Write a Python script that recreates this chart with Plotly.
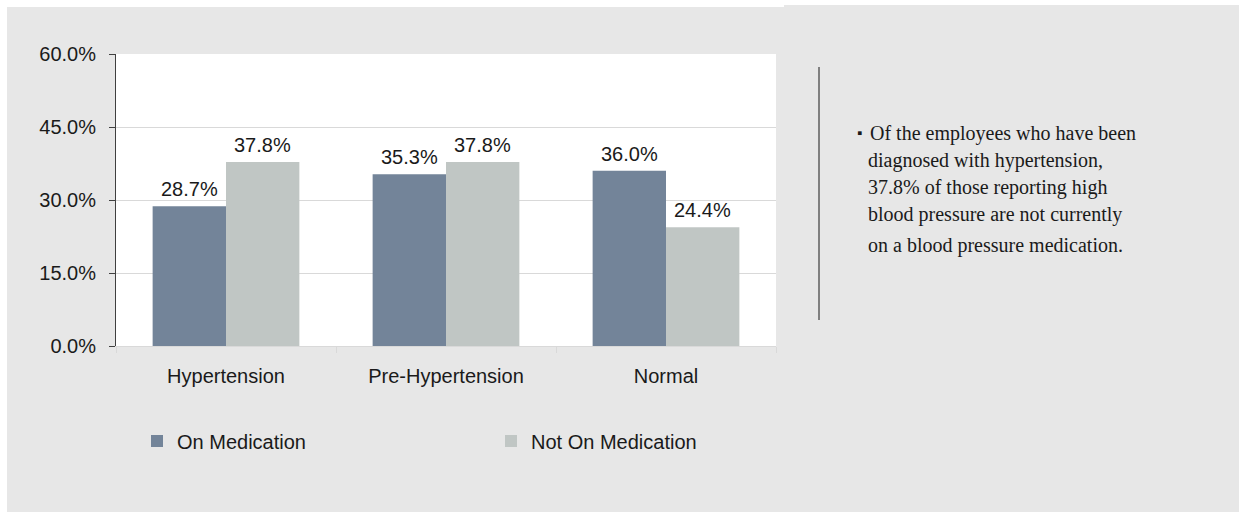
import plotly.graph_objects as go

# ---- data ----
categories = ["Hypertension", "Pre-Hypertension", "Normal"]
on_medication = [0.287, 0.353, 0.360]
not_on_medication = [0.378, 0.378, 0.244]
series_names = ["On Medication", "Not On Medication"]
series_colors = ["#738499", "#c0c6c4"]
y_ticks = [0.0, 0.15, 0.30, 0.45, 0.60]

note_lines = [
    "Of the employees who have been",
    "diagnosed with hypertension,",
    "37.8% of those reporting high",
    "blood pressure are not currently",
    "on a blood pressure medication.",
]

# ---- canvas geometry (pixels) ----
W, H = 1239, 512
ML, MR, MT, MB = 116, 463, 54, 166
PW, PH = W - ML - MR, H - MT - MB


def px(x):
    return (x - ML) / PW


def py(y):
    return (H - MB - y) / PH


SANS = "Liberation Sans, Arial, sans-serif"
SERIF = "Liberation Serif, Times New Roman, serif"
TXT = "#1a1a1a"
FS = 20

fig = go.Figure()
legend_refs = ["legend", "legend2"]
for name, vals, col, lg in zip(series_names, [on_medication, not_on_medication], series_colors, legend_refs):
    fig.add_trace(go.Bar(name=name, x=categories, y=vals, legend=lg,
                         marker=dict(color=col, line=dict(width=0))))

# value labels above each bar
n_series = 2
bargap = 0.333
bar_px = PW / len(categories) * (1 - bargap) / n_series
for i, vals in enumerate([on_medication, not_on_medication]):
    off = (i - (n_series - 1) / 2) * bar_px
    for c, v in zip(categories, vals):
        fig.add_annotation(x=c, y=v, xref="x", yref="y", text=f"{v*100:.1f}%",
                           showarrow=False, yanchor="bottom", xanchor="center",
                           xshift=off, yshift=4, font=dict(family=SANS, size=FS, color=TXT))

# side commentary
fig.add_annotation(x=px(855), y=py(133), xref="paper", yref="paper", text="\u25aa",
                   showarrow=False, xanchor="left", yanchor="middle",
                   font=dict(family=SERIF, size=15, color=TXT))
line_y = [133, 160, 187, 214, 245]
line_x = [868, 866, 866, 866, 866]
for t, xx, yy in zip(note_lines, line_x, line_y):
    fig.add_annotation(x=px(xx), y=py(yy), xref="paper", yref="paper", text=t,
                       showarrow=False, xanchor="left", yanchor="middle",
                       font=dict(family=SERIF, size=FS, color=TXT))

shapes = [
    # white margins around the grey panel
    dict(type="rect", xref="paper", yref="paper", x0=px(0), x1=px(784), y0=py(0), y1=py(7),
         fillcolor="white", line=dict(width=0), layer="below"),
    dict(type="rect", xref="paper", yref="paper", x0=px(784), x1=px(W), y0=py(0), y1=py(5),
         fillcolor="white", line=dict(width=0), layer="below"),
    dict(type="rect", xref="paper", yref="paper", x0=px(0), x1=px(7), y0=py(0), y1=py(H),
         fillcolor="white", line=dict(width=0), layer="below"),
    # divider next to commentary
    dict(type="line", xref="paper", yref="paper", x0=px(819), x1=px(819), y0=py(67), y1=py(320),
         line=dict(color="#808080", width=2)),
]

legend_style = dict(orientation="h", xanchor="left", yanchor="middle", bgcolor="rgba(0,0,0,0)",
                    font=dict(family=SANS, size=FS, color=TXT))

fig.update_layout(
    width=W, height=H,
    margin=dict(l=ML, r=MR, t=MT, b=MB, pad=0),
    paper_bgcolor="#e7e7e7",
    plot_bgcolor="white",
    barmode="group",
    bargap=bargap,
    bargroupgap=0,
    shapes=shapes,
    font=dict(family=SANS, size=FS, color=TXT),
    showlegend=True,
    legend=dict(x=px(137), y=py(441), **legend_style),
    legend2=dict(x=px(491), y=py(441), **legend_style),
    xaxis=dict(showline=True, linecolor="#d9d9d9", linewidth=1, ticks="outside", tickson="boundaries",
               tickcolor="#d9d9d9", ticklen=6, showgrid=False, ticklabelstandoff=12,
               tickfont=dict(family=SANS, size=FS, color=TXT)),
    yaxis=dict(range=[0, 0.6], tickvals=y_ticks, tickformat=".1%", showline=True, linecolor="#404040",
               linewidth=1, ticks="outside", tickcolor="#404040", ticklen=6, showgrid=True,
               gridcolor="#d9d9d9", gridwidth=1, zeroline=False, ticklabelstandoff=9,
               tickfont=dict(family=SANS, size=FS, color=TXT)),
)

fig.write_html("out.html")
